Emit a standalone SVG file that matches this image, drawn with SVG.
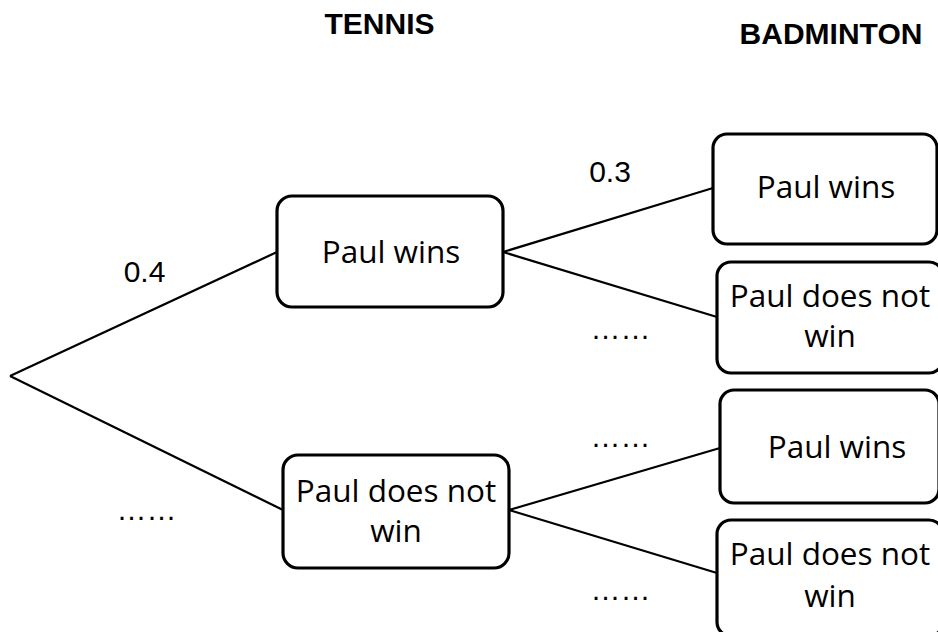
<svg xmlns="http://www.w3.org/2000/svg" width="938" height="632" viewBox="0 0 938 632">
<style>
.box{fill:#fff;stroke:#000;stroke-width:3.2}
.lbl{font-family:"Open Sans","Liberation Sans",sans-serif;font-size:31.5px;fill:#000;text-anchor:middle}
.num{font-family:"Liberation Sans",Arial,sans-serif;font-size:30px;fill:#000;text-anchor:middle}
.ttl{font-family:"Liberation Sans",Arial,sans-serif;font-size:30px;font-weight:bold;fill:#000;text-anchor:middle}
.edge{stroke:#000;stroke-width:2.2;fill:none}
</style>
<rect width="938" height="632" fill="#fff"/>
<text class="ttl" x="379.5" y="34">TENNIS</text>
<text class="ttl" x="831" y="44">BADMINTON</text>
<g id="connectors">
<line class="edge" x1="10" y1="376" x2="277" y2="252"/>
<line class="edge" x1="10" y1="376" x2="283" y2="510"/>
<line class="edge" x1="503" y1="252" x2="713" y2="188"/>
<line class="edge" x1="503" y1="252" x2="717" y2="317"/>
<line class="edge" x1="509" y1="510" x2="720" y2="448"/>
<line class="edge" x1="509" y1="510" x2="717" y2="573"/>
</g>
<g id="labels">
<text class="num" x="144.5" y="282">0.4</text>
<text class="num" x="610" y="182">0.3</text>
<text class="num" x="620.5" y="339">……</text>
<text class="num" x="620.5" y="447">……</text>
<text class="num" x="620.5" y="600">……</text>
<text class="num" x="146.5" y="520">……</text>
</g>
<g id="tennis-win">
<rect class="box" x="277" y="196" width="226" height="111" rx="15"/>
<text class="lbl" x="391" y="263">Paul wins</text>
</g>
<g id="tennis-lose">
<rect class="box" x="283" y="455" width="226" height="113" rx="15"/>
<text class="lbl" x="396" y="502">Paul does not</text>
<text class="lbl" x="396" y="542">win</text>
</g>
<g id="bad-win-1">
<rect class="box" x="713" y="134" width="224" height="110" rx="14"/>
<text class="lbl" x="826" y="198">Paul wins</text>
</g>
<g id="bad-lose-1">
<rect class="box" x="717" y="262" width="226" height="111" rx="14"/>
<text class="lbl" x="830" y="307">Paul does not</text>
<text class="lbl" x="830" y="347">win</text>
</g>
<g id="bad-win-2">
<rect class="box" x="720" y="390" width="219" height="113" rx="14"/>
<text class="lbl" x="837" y="458">Paul wins</text>
</g>
<g id="bad-lose-2">
<rect class="box" x="717" y="520" width="226" height="116" rx="14"/>
<text class="lbl" x="830" y="565">Paul does not</text>
<text class="lbl" x="830" y="607">win</text>
</g>
</svg>
